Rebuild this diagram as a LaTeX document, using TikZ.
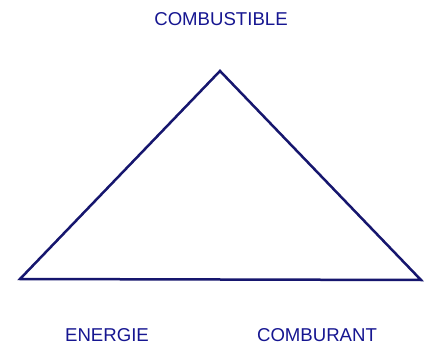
\documentclass[tikz,border=0pt]{standalone}
\usepackage{fontspec}
\setmainfont{Liberation Sans}
\definecolor{txtblue}{RGB}{22,22,145}
\definecolor{linblue}{RGB}{22,22,110}
\begin{document}
\begin{tikzpicture}[x=1pt,y=1pt,
  lbl/.style={text=txtblue,font=\fontsize{18.6}{20}\selectfont,inner sep=0pt,anchor=base},
  edge/.style={draw=linblue,line width=2.5pt,line join=miter}]
\useasboundingbox (0,0) rectangle (427,345);
\fill[white] (0,0) rectangle (427,345);
\coordinate (top) at (220,274);
\coordinate (bl) at (20,66);
\coordinate (br) at (421,65);
\draw[edge] (top) -- (bl) -- (br) -- cycle;
\node[lbl] (comb) at (221,319) {COMBUSTIBLE};
\node[lbl] (ener) at (107,4) {ENERGIE};
\node[lbl] (comu) at (317,4) {COMBURANT};
\end{tikzpicture}
\end{document}
